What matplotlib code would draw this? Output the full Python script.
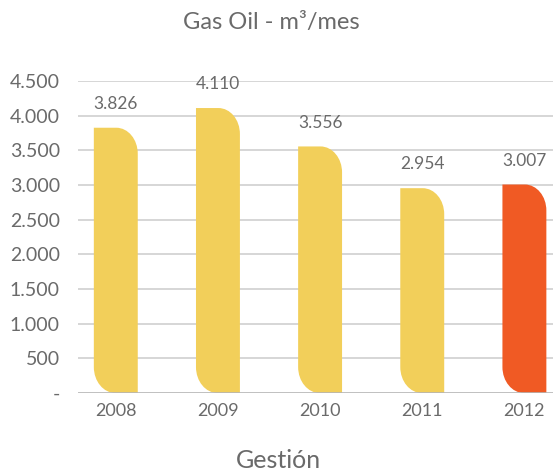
import numpy as np
import matplotlib
matplotlib.use("Agg")
import matplotlib.pyplot as plt
from matplotlib.path import Path
from matplotlib.patches import PathPatch

plt.rcParams['font.family'] = ['Lato', 'DejaVu Sans']

years = ['2008', '2009', '2010', '2011', '2012']
valores = [3826, 4110, 3556, 2954, 3007]
etiquetas = ['3.826', '4.110', '3.556', '2.954', '3.007']
yticks = [0, 500, 1000, 1500, 2000, 2500, 3000, 3500, 4000, 4500]
yticklabels = ['-', '500', '1.000', '1.500', '2.000', '2.500', '3.000', '3.500', '4.000', '4.500']

amarillo = '#F2CF5A'
naranja = '#F05A24'
colores = [amarillo, amarillo, amarillo, amarillo, naranja]
gris = '#6a6a6a'

W, H = 557, 475
fig = plt.figure(figsize=(W / 100, H / 100), dpi=100)
ax_l, ax_r, ax_b, ax_t = 78, 553, 393, 81
ax = fig.add_axes([ax_l / W, 1 - ax_b / H, (ax_r - ax_l) / W, (ax_b - ax_t) / H])

xmin, xmax = -0.37, 4.28
ax.set_xlim(xmin, xmax)
ax.set_ylim(0, 4500)

# pixeles por unidad
px_x = (ax_r - ax_l) / (xmax - xmin)
px_y = (ax_b - ax_t) / 4500.0

ancho = 0.43
rx = 21.5 / px_x
ry = 26 / px_y
k = 0.5523


def barra(xc, v, color):
    x0, x1 = xc - ancho / 2, xc + ancho / 2
    y0, y1 = 0, v
    verts = [
        (x0, y1),
        (x1 - rx, y1),
        (x1 - rx + k * rx, y1), (x1, y1 - ry + k * ry), (x1, y1 - ry),
        (x1, y0),
        (x0 + rx, y0),
        (x0 + rx - k * rx, y0), (x0, y0 + ry - k * ry), (x0, y0 + ry),
        (x0, y1),
        (x0, y1),
    ]
    codes = [Path.MOVETO, Path.LINETO,
             Path.CURVE4, Path.CURVE4, Path.CURVE4,
             Path.LINETO, Path.LINETO,
             Path.CURVE4, Path.CURVE4, Path.CURVE4,
             Path.LINETO, Path.CLOSEPOLY]
    ax.add_patch(PathPatch(Path(verts, codes), facecolor=color, edgecolor='none', zorder=3))


x = np.arange(len(years))
for i in range(len(years)):
    barra(x[i], valores[i], colores[i])
    ax.text(x[i], valores[i] + 230, etiquetas[i], ha='center', va='bottom',
            fontsize=12.5, color=gris)

for t in yticks[1:]:
    ax.axhline(t, color='#cfcfcf', lw=1.2, zorder=1)
ax.axhline(0, color='#b5b5b5', lw=1.2, zorder=4)

for s in ax.spines.values():
    s.set_visible(False)

ax.set_yticks(yticks)
ax.set_yticklabels(yticklabels)
ax.set_xticks(x)
ax.set_xticklabels(years)
ax.tick_params(length=0, labelsize=14, labelcolor=gris)
ax.tick_params(axis='x', pad=7, labelsize=13)
ax.tick_params(axis='y', pad=13)

fig.text(271 / W, 1 - 22 / H, 'Gas Oil - m³/mes', ha='center', va='center',
         fontsize=17, color=gris)
fig.text(278 / W, 1 - 461 / H, 'Gestión', ha='center', va='center',
         fontsize=18, color=gris)

fig.savefig('out.png', dpi=100)
